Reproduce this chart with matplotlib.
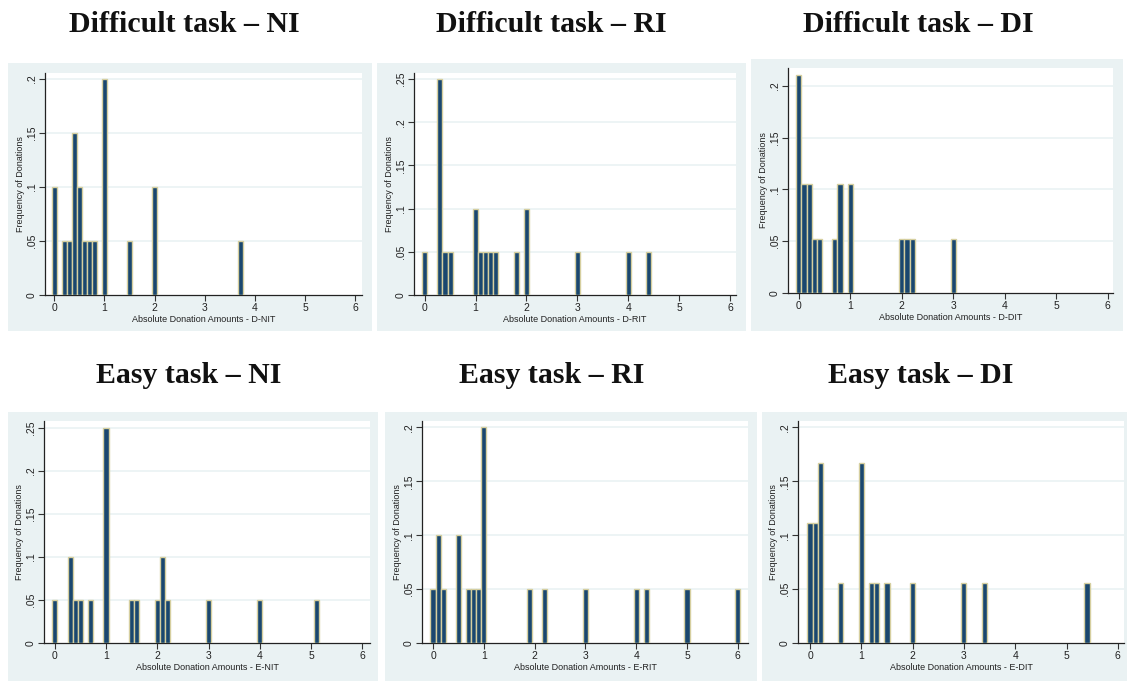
import matplotlib
matplotlib.use("Agg")
import matplotlib.pyplot as plt
from matplotlib.patches import Rectangle

W, H = 1127, 681

# --- data (bar positions and relative frequencies) ---
dnit_x = [0, 0.2, 0.3, 0.4, 0.5, 0.6, 0.7, 0.8, 1.0, 1.5, 2.0, 3.7]
dnit_y = [0.10, 0.05, 0.05, 0.15, 0.10, 0.05, 0.05, 0.05, 0.20, 0.05, 0.10, 0.05]

drit_x = [0, 0.3, 0.4, 0.5, 1.0, 1.1, 1.2, 1.3, 1.4, 1.8, 2.0, 3.0, 4.0, 4.4]
drit_y = [0.05, 0.25, 0.05, 0.05, 0.10, 0.05, 0.05, 0.05, 0.05, 0.05, 0.10, 0.05, 0.05, 0.05]

ddit_x = [0, 0.1, 0.2, 0.3, 0.4, 0.7, 0.8, 1.0, 2.0, 2.1, 2.2, 3.0]
ddit_y = [4/19, 2/19, 2/19, 1/19, 1/19, 1/19, 2/19, 2/19, 1/19, 1/19, 1/19, 1/19]

enit_x = [0, 0.3, 0.4, 0.5, 0.7, 1.0, 1.5, 1.6, 2.0, 2.1, 2.2, 3.0, 4.0, 5.1]
enit_y = [0.05, 0.10, 0.05, 0.05, 0.05, 0.25, 0.05, 0.05, 0.05, 0.10, 0.05, 0.05, 0.05, 0.05]

erit_x = [0, 0.1, 0.2, 0.5, 0.7, 0.8, 0.9, 1.0, 1.9, 2.2, 3.0, 4.0, 4.2, 5.0, 6.0]
erit_y = [0.05, 0.10, 0.05, 0.10, 0.05, 0.05, 0.05, 0.20, 0.05, 0.05, 0.05, 0.05, 0.05, 0.05, 0.05]

edit_x = [0, 0.1, 0.2, 0.6, 1.0, 1.2, 1.3, 1.5, 2.0, 3.0, 3.4, 5.4]
edit_y = [2/18, 2/18, 3/18, 1/18, 3/18, 1/18, 1/18, 1/18, 1/18, 1/18, 1/18, 1/18]

titles = ["Difficult task \u2013 NI", "Difficult task \u2013 RI", "Difficult task \u2013 DI",
          "Easy task \u2013 NI", "Easy task \u2013 RI", "Easy task \u2013 DI"]
xlabels = ["Absolute Donation Amounts - D-NIT", "Absolute Donation Amounts - D-RIT",
           "Absolute Donation Amounts - D-DIT", "Absolute Donation Amounts - E-NIT",
           "Absolute Donation Amounts - E-RIT", "Absolute Donation Amounts - E-DIT"]
yticks_list = [[0, .05, .1, .15, .2], [0, .05, .1, .15, .2, .25], [0, .05, .1, .15, .2],
               [0, .05, .1, .15, .2, .25], [0, .05, .1, .15, .2], [0, .05, .1, .15, .2]]
xs = [dnit_x, drit_x, ddit_x, enit_x, erit_x, edit_x]
ys = [dnit_y, drit_y, ddit_y, enit_y, erit_y, edit_y]

# --- layout in pixels ---
# gray panel boxes (x0, x1, ytop, ybottom)
panels = [(8, 372, 63, 331), (377, 746, 63, 331), (751, 1123, 59, 331),
          (8, 378, 412, 681), (385, 757, 412, 681), (762, 1127, 412, 681)]
# axes boxes (x0, x1, ytop, yaxis)
axboxes = [(45, 362, 73, 295), (414, 736, 73, 295), (788, 1113, 68, 293),
           (44, 370, 421, 643), (422, 748, 421, 643), (798, 1124, 421, 643)]
xlims = [(-0.185, 6.13), (-0.21, 6.12), (-0.21, 6.1),
         (-0.21, 6.15), (-0.217, 6.2), (-0.234, 6.12)]
ytops = [0.2056, 0.257, 0.2173, 0.258, 0.206, 0.206]
title_pos = [(184, 32), (551, 32), (918, 32), (189, 383), (552, 383), (921, 383)]

bg = "#eaf2f3"
bar_fill = "#1a476f"
bar_edge = "#d6cf9f"


def fmt(v):
    if v == 0:
        return "0"
    return ("%g" % v).lstrip("0")


fig = plt.figure(figsize=(W / 100, H / 100), dpi=100)
fig.patch.set_facecolor("white")

for i in range(6):
    px0, px1, pt, pb = panels[i]
    fig.patches.append(Rectangle((px0 / W, 1 - pb / H), (px1 - px0) / W, (pb - pt) / H,
                                 transform=fig.transFigure, facecolor=bg,
                                 edgecolor="none", zorder=-5))

    ax0, ax1, at, ab = axboxes[i]
    ax = fig.add_axes([ax0 / W, 1 - ab / H, (ax1 - ax0) / W, (ab - at) / H])
    ax.set_zorder(2)
    ax.set_facecolor("white")
    ax.bar(xs[i], ys[i], width=0.1, color=bar_fill, edgecolor=bar_edge,
           linewidth=1.0, zorder=3)
    ax.set_xlim(*xlims[i])
    ax.set_ylim(0, ytops[i])
    ax.set_xticks(range(7))
    ax.set_xticklabels([str(t) for t in range(7)], fontsize=7.5,
                       family="Liberation Sans", color="#222222")
    yt = yticks_list[i]
    ax.set_yticks(yt)
    ax.set_yticklabels([fmt(v) for v in yt], fontsize=7.5, rotation=90,
                       va="center", family="Liberation Sans", color="#222222")
    for v in yt[1:]:
        ax.axhline(v, color="#eaf2f3", linewidth=1.2, zorder=1)
    ax.tick_params(length=4, width=0.8, color="#333333", pad=2)
    for s in ["top", "right"]:
        ax.spines[s].set_visible(False)
    for s in ["left", "bottom"]:
        ax.spines[s].set_color("#222222")
        ax.spines[s].set_linewidth(0.9)
    ax.set_xlabel(xlabels[i], fontsize=6.5, family="Liberation Sans",
                  color="#222222", labelpad=1.5)
    ax.set_ylabel("Frequency of Donations", fontsize=6.5, family="Liberation Sans",
                  color="#222222", labelpad=1.5)

    tx, ty = title_pos[i]
    fig.text(tx / W, 1 - ty / H, titles[i], ha="center", va="baseline",
             fontsize=21.5, fontweight="bold", family="Liberation Serif", color="#111111")

fig.savefig("out.png", dpi=100)
